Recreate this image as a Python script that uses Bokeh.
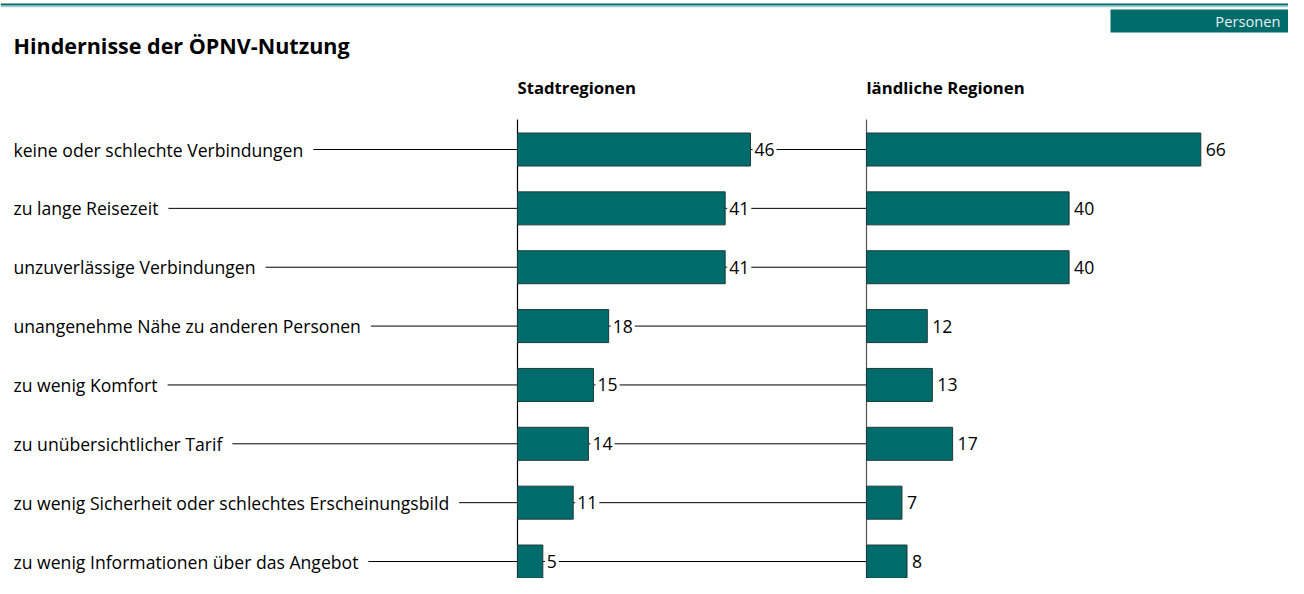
from bokeh.plotting import figure
from bokeh.models import Range1d, Label, ColumnDataSource
from bokeh.core.properties import value
from bokeh.embed import file_html
from bokeh.resources import INLINE

# ---------------- data ----------------
title = "Hindernisse der ÖPNV-Nutzung"
unit_label = "Personen"
panel_names = ["Stadtregionen", "ländliche Regionen"]
categories = [
    "keine oder schlechte Verbindungen",
    "zu lange Reisezeit",
    "unzuverlässige Verbindungen",
    "unangenehme Nähe zu anderen Personen",
    "zu wenig Komfort",
    "zu unübersichtlicher Tarif",
    "zu wenig Sicherheit oder schlechtes Erscheinungsbild",
    "zu wenig Informationen über das Angebot",
]
stadt = [46, 41, 41, 18, 15, 14, 11, 5]
land = [66, 40, 40, 12, 13, 17, 7, 8]

# ---------------- layout ----------------
W, H = 1288, 578
TEAL = "#006b6b"
FONT = "Open Sans"
FS = "17.6px"
ppu = 5.065            # pixels per unit
ox = 517               # pixel position of first panel origin
ox2 = 866              # pixel position of second panel origin
R = (ox2 - ox) / ppu   # data offset of second panel
row0, row_step = 149.0, 58.86
y_top = -row0 / row_step
y_bot = 7 + (H - row0 - 7 * row_step) / row_step
x_start = -ox / ppu
x_end = (W - ox) / ppu
x_lbl = (3 - ox) / ppu   # anchor of category labels (background edge)
x_line = (8 - ox) / ppu  # start of connector lines (hidden under label background)


def py(px):
    """pixel row (from top) -> data y"""
    return (px - row0) / row_step


p = figure(width=W, height=H, output_backend="svg", toolbar_location=None,
           x_range=Range1d(x_start, x_end), y_range=Range1d(y_bot, y_top),
           min_border=0, outline_line_color=None)
p.axis.visible = False
p.grid.visible = False

ys = list(range(len(categories)))
src = ColumnDataSource(dict(
    y=ys, cat=categories, stadt=stadt, land=land,
    land_left=[R] * len(land), land_right=[R + v for v in land],
    stadt_lbl=[str(v) for v in stadt], land_lbl=[str(v) for v in land],
    xl=[x_lbl] * len(ys), x0=[x_line] * len(ys), zero=[0] * len(ys), rx=[R] * len(ys),
))

# connector lines
p.segment(x0="x0", y0="y", x1="zero", y1="y", source=src, line_color="black", line_width=1)
p.segment(x0="stadt", y0="y", x1="rx", y1="y", source=src, line_color="black", line_width=1)

# vertical axis lines
p.segment(x0=[0], y0=[py(119)], x1=[0], y1=[y_bot], line_color="black", line_width=1.2)
p.segment(x0=[R], y0=[py(119)], x1=[R], y1=[y_bot], line_color="#555555", line_width=1.2)

# bars
bh = 33 / row_step
p.hbar(y="y", left=0, right="stadt", height=bh, source=src,
       fill_color=TEAL, line_color="#1f3a3a", line_width=1)
p.hbar(y="y", left="land_left", right="land_right", height=bh, source=src,
       fill_color=TEAL, line_color="#1f3a3a", line_width=1)

# category labels (white background hides connector line)
p.text(x="xl", y="y", text="cat", source=src, x_offset=0,
       text_font=value(FONT), text_font_size=FS, text_color="black",
       text_baseline="middle", text_align="left",
       background_fill_color="white", padding=(10, 0))

# value labels
p.text(x="stadt", y="y", text="stadt_lbl", source=src, x_offset=2,
       text_font=value(FONT), text_font_size=FS, text_color="black",
       text_baseline="middle", text_align="left",
       background_fill_color="white", padding=(2, 0))
p.text(x="land_right", y="y", text="land_lbl", source=src, x_offset=5,
       text_font=value(FONT), text_font_size=FS, text_color="black",
       text_baseline="middle", text_align="left")

# header decorations
p.quad(left=[x_start], right=[x_end], top=[py(3)], bottom=[py(5)],
       fill_color=TEAL, line_color=None)
p.quad(left=[x_start], right=[x_end], top=[py(5.5)], bottom=[py(6.8)],
       fill_color="#9fcfcf", line_color=None)
p.quad(left=[(1110 - ox) / ppu], right=[x_end], top=[py(9)],
       bottom=[py(32)], fill_color=TEAL, line_color=None)

p.add_layout(Label(x=W - 8, y=H - 20.5, x_units="screen", y_units="screen",
                   text=unit_label, text_font=FONT, text_font_size="14.7px",
                   text_color="#e6f2f2", text_align="right", text_baseline="middle"))
p.add_layout(Label(x=13, y=H - 45, x_units="screen", y_units="screen",
                   text=title, text_font=FONT, text_font_size="21.5px", text_font_style="bold",
                   text_color="black", text_align="left", text_baseline="middle"))
p.add_layout(Label(x=ox, y=H - 87, x_units="screen", y_units="screen",
                   text=panel_names[0], text_font=FONT, text_font_size="16.7px", text_font_style="bold",
                   text_color="black", text_align="left", text_baseline="middle"))
p.add_layout(Label(x=ox2, y=H - 87, x_units="screen", y_units="screen",
                   text=panel_names[1], text_font=FONT, text_font_size="16.7px", text_font_style="bold",
                   text_color="black", text_align="left", text_baseline="middle"))

open("out.html", "w").write(file_html(p, INLINE))
